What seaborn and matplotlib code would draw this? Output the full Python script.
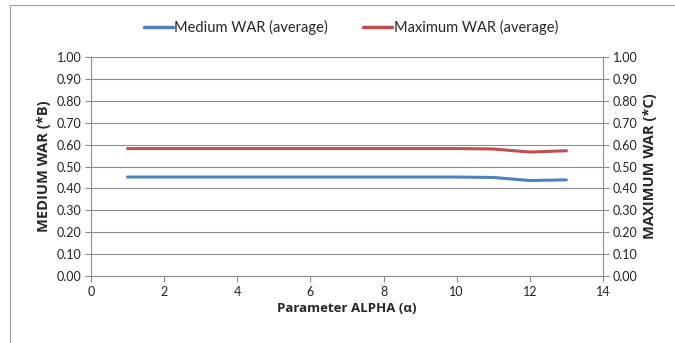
import numpy as np
import pandas as pd
import matplotlib
matplotlib.use("Agg")
import matplotlib.pyplot as plt
import seaborn as sns

# values
alpha = [1, 2, 3, 4, 5, 6, 7, 8, 9, 10, 11, 12, 13]
medium_war = [0.452, 0.452, 0.452, 0.452, 0.452, 0.452, 0.452, 0.452, 0.452, 0.452, 0.450, 0.436, 0.439]
maximum_war = [0.582, 0.582, 0.582, 0.582, 0.582, 0.582, 0.582, 0.582, 0.582, 0.582, 0.580, 0.566, 0.572]
y_ticks = np.arange(0, 1.01, 0.1)
x_ticks = list(range(0, 15, 2))

sns.set_theme(style="white")
plt.rcParams["font.family"] = ["Lato", "DejaVu Sans"]

df = pd.DataFrame({
    "alpha": alpha * 2,
    "value": medium_war + maximum_war,
    "series": ["Medium WAR (average)"] * len(alpha) + ["Maximum WAR (average)"] * len(alpha),
})

fig = plt.figure(figsize=(6.75, 3.43), dpi=100)
ax = fig.add_axes([0.1348, 0.1953, 0.7585, 0.6385])

palette = {"Medium WAR (average)": "#4F81BD", "Maximum WAR (average)": "#C0504D"}
sns.lineplot(data=df, x="alpha", y="value", hue="series", palette=palette,
             linewidth=2.2, ax=ax, legend=False)

grid_c = "#8c8c8c"
label_font = dict(fontweight="bold", family=["Open Sans", "DejaVu Sans"])
ax.set_xlim(0, 14)
ax.set_ylim(0, 1)
ax.set_xticks(x_ticks)
ax.set_yticks(y_ticks)
ax.set_yticklabels([f"{v:.2f}" for v in y_ticks])
ax.yaxis.grid(True, color=grid_c, linewidth=0.8)
ax.set_axisbelow(True)
for side in ["left", "right", "bottom"]:
    ax.spines[side].set_color(grid_c)
    ax.spines[side].set_linewidth(0.8)
ax.spines["top"].set_visible(False)
ax.tick_params(axis="both", which="both", direction="out", length=4, width=0.8,
               color=grid_c, labelsize=9, labelcolor="#222222", pad=3)
ax.tick_params(axis="x", bottom=True)
ax.tick_params(axis="y", left=True)
ax.set_xlabel("Parameter ALPHA (α)", fontsize=9.5, labelpad=3, **label_font)
ax.set_ylabel("MEDIUM WAR (*B)", fontsize=10.5, labelpad=4, **label_font)

ax2 = ax.twinx()
ax2.set_ylim(0, 1)
ax2.set_yticks(y_ticks)
ax2.set_yticklabels([f"{v:.2f}" for v in y_ticks])
for side in ["left", "right", "bottom", "top"]:
    ax2.spines[side].set_visible(False)
ax2.tick_params(axis="y", direction="out", length=4, width=0.8, color=grid_c,
                labelsize=9, labelcolor="#222222", right=True, pad=3)
ax2.set_ylabel("MAXIMUM WAR (*C)", fontsize=10.5, labelpad=4, **label_font)

handles = [plt.Line2D([], [], color=palette[k], linewidth=2.5) for k in palette]
fig.legend(handles, list(palette.keys()), loc="center", bbox_to_anchor=(0.52, 0.92),
           ncol=2, frameon=False, fontsize=10.5, handlelength=2.0, handletextpad=0.1,
           columnspacing=2.4)

# outer chart border
fig.patches.append(plt.Rectangle((0.015, -0.01), 1.0, 0.995, transform=fig.transFigure,
                                 fill=False, edgecolor="#a0a0a0", linewidth=0.8))

fig.savefig("out.png", dpi=100)
